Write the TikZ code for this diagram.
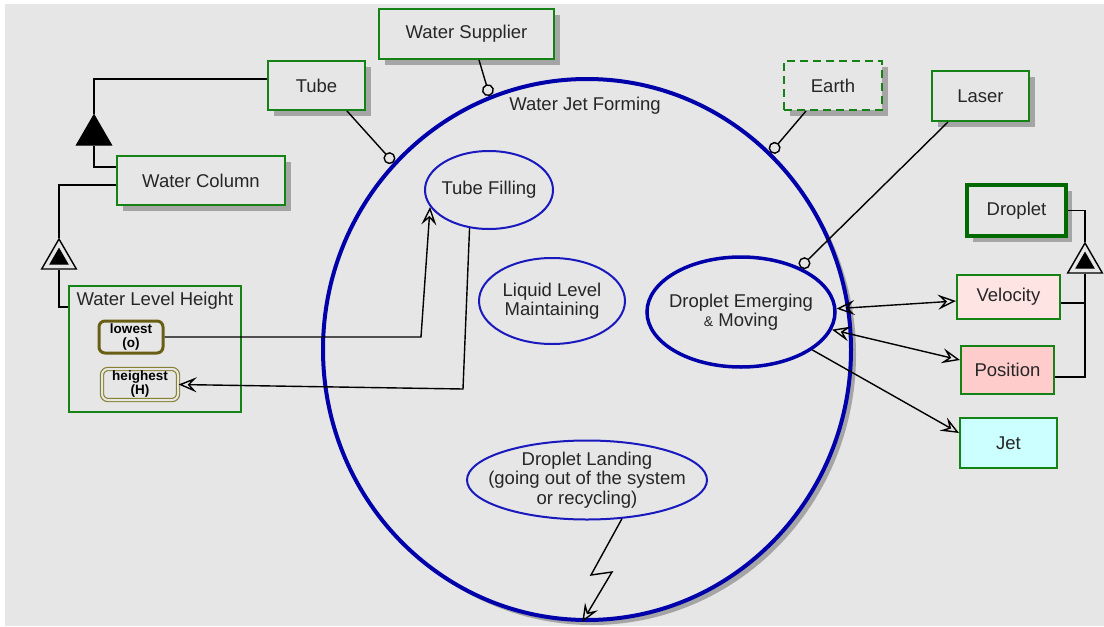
\documentclass[tikz,border=0pt]{standalone}
\usepackage{fontspec}
\setmainfont{Liberation Sans}
\usetikzlibrary{arrows.meta,shapes.geometric,shadows}

\definecolor{haikei}{RGB}{230,230,230}
\definecolor{midori}{RGB}{20,130,20}
\definecolor{koimidori}{RGB}{0,105,0}
\definecolor{ao}{RGB}{0,0,170}
\definecolor{usuao}{RGB}{25,25,190}
\definecolor{kage}{RGB}{165,165,165}
\definecolor{olivea}{RGB}{105,95,20}
\definecolor{oliveb}{RGB}{135,130,50}
\definecolor{pinka}{RGB}{255,228,228}
\definecolor{pinkb}{RGB}{255,204,204}
\definecolor{mizu}{RGB}{204,255,255}

\tikzset{every picture/.style={line width=1.4pt}}
\tikzset{
  moji/.style={font=\fontsize{18.5}{19.5}\selectfont,text=black!85},
  obj/.style={moji,draw=midori,line width=2pt,fill=haikei,inner sep=0pt,
    drop shadow={shadow xshift=6pt,shadow yshift=-6pt,opacity=1,fill=kage}},
  objplain/.style={moji,draw=midori,line width=2pt,inner sep=0pt},
  proc/.style={moji,ellipse,draw=usuao,line width=2pt,inner sep=0pt,align=center},
  jotai/.style={font=\fontsize{13.5}{14}\selectfont\bfseries,rounded corners=6pt,inner sep=0pt,align=center},
  tri/.style={regular polygon,regular polygon sides=3,minimum size=40pt,inner sep=0pt,draw=black,line width=1.4pt},
  hito/.style={-{Circle[length=12pt,fill=haikei]}},
  ya/.style={-{Stealth[open,length=18pt,width=15pt,inset=7pt]}},
  yaya/.style={{Stealth[open,length=18pt,width=15pt,inset=7pt]}-{Stealth[open,length=18pt,width=15pt,inset=7pt]}},
}

\begin{document}
\begin{tikzpicture}[x=1pt,y=-1pt]
\useasboundingbox (0,0) rectangle (1104,627);
\fill[white] (0,0) rectangle (1104,627); %余白
\fill[haikei] (5,4) rectangle (1104,626); %背景
% プロセス
\node[proc,draw=ao,line width=4pt,fill=haikei,minimum width=528pt,minimum height=541pt,
  drop shadow={shadow xshift=5pt,shadow yshift=-5pt,opacity=1,fill=kage}] (jetform) at (587,349.5) {};
\node[moji] (jflabel) at (585,106) {Water Jet Forming};
\node[proc,inner xsep=-3pt,minimum width=128pt,minimum height=78pt] (tubefill) at (489,190) {Tube Filling};
\node[proc,minimum width=146pt,minimum height=86pt] (liquid) at (552,301) {Liquid Level\\Maintaining};
\node[proc,draw=ao,line width=3.5pt,inner xsep=-7pt,minimum width=188pt,minimum height=110pt] (demove) at (741,312) {Droplet Emerging\\{\fontsize{14}{14}\selectfont\&} Moving};
\node[proc,inner xsep=-14pt,inner ysep=-2pt,minimum width=240pt,minimum height=79pt] (landing) at (587,480) {Droplet Landing\\(going out of the system\\or recycling)};
% オブジェクト
\node[obj,minimum width=175pt,minimum height=50pt] (wsup) at (466.5,34) {Water Supplier};
\node[obj,minimum width=97pt,minimum height=49pt] (tube) at (316.5,85.5) {Tube};
\node[obj,minimum width=168pt,minimum height=49pt] (wcol) at (201,180.5) {Water Column};
\node[obj,dash pattern=on 8pt off 5pt,minimum width=98pt,minimum height=49pt] (earth) at (833,85.5) {Earth};
\node[obj,minimum width=97pt,minimum height=50pt] (laser) at (980.5,96) {Laser};
\node[obj,draw=koimidori,line width=3.5pt,minimum width=99pt,minimum height=51pt] (droplet) at (1016.5,210.5) {Droplet};
\node[objplain,fill=pinka,minimum width=103pt,minimum height=44pt] (velocity) at (1008.5,297) {Velocity};
\node[objplain,fill=pinkb,minimum width=93pt,minimum height=48pt] (position) at (1007.5,370) {Position};
\node[objplain,fill=mizu,minimum width=97pt,minimum height=50pt] (jet) at (1008.5,443) {Jet};
\node[objplain,minimum width=172pt,minimum height=126pt,
  label={[moji,anchor=north,yshift=-3pt]north:Water Level Height}] (wlh) at (155,349) {};
\node[jotai,draw=olivea,line width=3pt,minimum width=64pt,minimum height=32pt] (lowest) at (131,337) {lowest\\(o)};
\node[jotai,draw=oliveb,double=haikei,double distance=2pt,line width=1.2pt,minimum width=76pt,minimum height=31pt] (heighest) at (140,384.5) {heighest\\(H)};
% 構造リンク
\node[tri,fill=black] (agg) at (94,135) {};
\node[tri,fill=haikei] (exha) at (59,259) {};
\node[tri,fill=black,minimum size=20pt] (exhain) at (exha.center) {};
\node[tri,fill=haikei] (exhb) at (1085,263) {};
\node[tri,fill=black,minimum size=20pt] (exhbin) at (exhb.center) {};
\draw ([yshift=6.5pt]tube.west) -| (agg.corner 1);
\draw (agg.side 2) |- ([yshift=13.5pt]wcol.west);
\draw ([yshift=-4.5pt]wcol.west) -| (exha.corner 1);
\draw (exha.side 2) |- ([yshift=-22pt]wlh.north west);
\draw (droplet.east) -| (exhb.corner 1);
\draw ([yshift=-6pt]velocity.east) -| (exhb.side 2);
\draw ([yshift=-7pt]position.east) -| (exhb.side 2);
% 道具リンク
\draw[hito] ([xshift=30.5pt]tube.south) -- (jetform.136);
\draw[hito] ([xshift=12.5pt]wsup.south) -- (jetform.111);
\draw[hito] ([xshift=-27pt]earth.south) -- (jetform.47);
\draw[hito] ([xshift=-32.5pt]laser.south) -- (demove.37);
% 効果リンク
\coordinate (oreA) at (421,337);
\coordinate (oreB) at (463,389);
\draw[ya] (lowest.east) -- (oreA) -- (tubefill.196);
\draw[ya] (tubefill.243) -- (oreB) -- (heighest.east);
\draw[yaya] (demove.2) -- ([yshift=-4pt]velocity.west);
\draw[yaya] (demove.349) -- ([yshift=10pt]position.west);
\draw[ya] (demove.332) -- ([yshift=10pt]jet.west);
\coordinate (zigA) at (591,575);
\coordinate (zigB) at (612,572);
\draw[ya] (landing.312) -- (zigA) -- (zigB) -- (jetform.269); %稲妻
\end{tikzpicture}
\end{document}
